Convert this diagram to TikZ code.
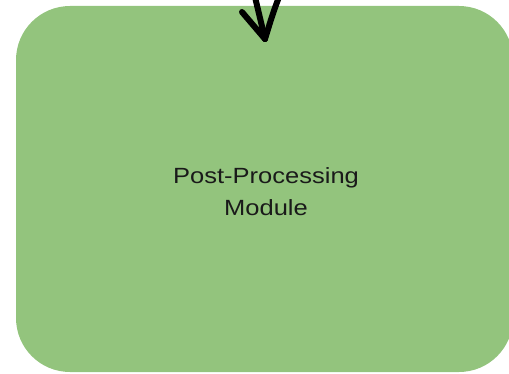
\documentclass[tikz,border=0pt]{standalone}
\usepackage{fontspec}
\setmainfont{Liberation Sans}
\definecolor{boxgreen}{HTML}{93C47D}
\definecolor{inkdark}{HTML}{1A1A1A}
\tikzset{
  module/.style={fill=boxgreen, draw=none, rounded corners=54pt},
  label/.style={text=inkdark, align=center, xscale=1.16,
    font=\fontsize{22}{32}\selectfont},
  pen/.style={draw=black, line width=6pt, line cap=round, line join=round}
}
\begin{document}
\begin{tikzpicture}[x=1pt, y=1pt]
  \useasboundingbox (0,0) rectangle (509,373);
  % module body
  \begin{scope}
    \clip (0,0) rectangle (509,373);
    \fill[module] (16,1) rectangle (513,367);
  \end{scope}
  \node[label] (title) at (266,181) {Post-Processing\\Module};
  % hand-drawn incoming arrow
  \coordinate (tip) at (265,334);
  \coordinate (shaft) at (255,376);
  \coordinate (barbL) at (242,361);
  \coordinate (barbR) at (279,376);
  \draw[pen] (shaft) -- (tip);
  \draw[pen] (barbL) -- (tip);
  \draw[pen] (barbR) .. controls (273,360) .. (tip);
\end{tikzpicture}
\end{document}
